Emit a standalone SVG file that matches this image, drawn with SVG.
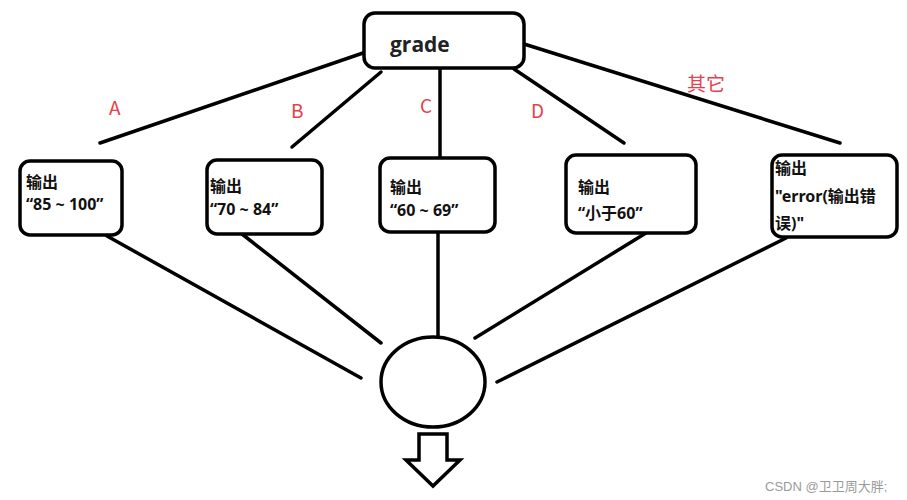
<svg xmlns="http://www.w3.org/2000/svg" width="907" height="500" viewBox="0 0 907 500">
<style>
.box{fill:#fff;stroke:#000;stroke-width:3.5}
.ln{stroke:#000;stroke-width:3.5;fill:none;stroke-linecap:round}
.t{font-family:"Noto Sans","Noto Sans CJK SC",sans-serif;font-weight:700;font-size:16px;fill:#111}
.lbl{font-family:"Noto Sans CJK SC","Noto Sans",sans-serif;font-size:19px;fill:#e4414c}
</style>
<rect width="907" height="500" fill="#fff"/>
<g id="connectors">
<line class="ln" x1="363" y1="53" x2="100" y2="143"/>
<line class="ln" x1="381" y1="72" x2="292" y2="147"/>
<line class="ln" x1="440" y1="69" x2="440" y2="158"/>
<line class="ln" x1="514" y1="69" x2="624" y2="143"/>
<line class="ln" x1="524" y1="44" x2="840" y2="143"/>
<line class="ln" x1="107" y1="236" x2="361" y2="378"/>
<line class="ln" x1="242" y1="234" x2="381" y2="343"/>
<line class="ln" x1="438" y1="232" x2="438" y2="336"/>
<line class="ln" x1="646" y1="233" x2="475" y2="338"/>
<line class="ln" x1="786" y1="238" x2="497" y2="382"/>
<text class="lbl" x="109" y="115">A</text>
<text class="lbl" x="291" y="118">B</text>
<text class="lbl" x="420" y="113">C</text>
<text class="lbl" x="531" y="118">D</text>
<text class="lbl" x="687" y="91">其它</text>
</g>
<g id="grade">
<rect class="box" x="364" y="13" width="160" height="55" rx="11"/>
<text x="390" y="52" style="font-family:'Open Sans','Noto Sans',sans-serif;font-weight:700;font-size:21px;fill:#222">grade</text>
</g>
<g id="n1">
<rect class="box" x="20" y="161" width="102" height="74" rx="10"/>
<text class="t" x="26" y="188">输出</text>
<text class="t" x="26" y="210">“85 ~ 100”</text>
</g>
<g id="n2">
<rect class="box" x="207" y="160" width="115" height="74" rx="10"/>
<text class="t" x="210" y="192">输出</text>
<text class="t" x="210" y="215">“70 ~ 84”</text>
</g>
<g id="n3">
<rect class="box" x="380" y="158" width="115" height="74" rx="10"/>
<text class="t" x="390" y="193">输出</text>
<text class="t" x="390" y="216">“60 ~ 69”</text>
</g>
<g id="n4">
<rect class="box" x="566" y="155" width="130" height="78" rx="10"/>
<text class="t" x="578" y="193">输出</text>
<text class="t" x="578" y="219">“小于60”</text>
</g>
<g id="n5">
<rect class="box" x="772" y="155" width="125" height="82" rx="10"/>
<text class="t" x="775" y="174">输出</text>
<text class="t" x="775" y="202">"error(输出错</text>
<text class="t" x="775" y="229">误)"</text>
</g>
<g id="merge">
<ellipse class="box" cx="433" cy="382" rx="52" ry="45"/>
</g>
<g id="arrow">
<polygon class="box" points="419,434 447,434 447,460 460,460 433,486 406,460 419,460" stroke-linejoin="miter"/>
</g>
<text x="765" y="491" style="font-family:'Liberation Sans','Noto Sans CJK SC',sans-serif;font-size:13px;fill:#9a9a9a">CSDN @卫卫周大胖;</text>
</svg>
